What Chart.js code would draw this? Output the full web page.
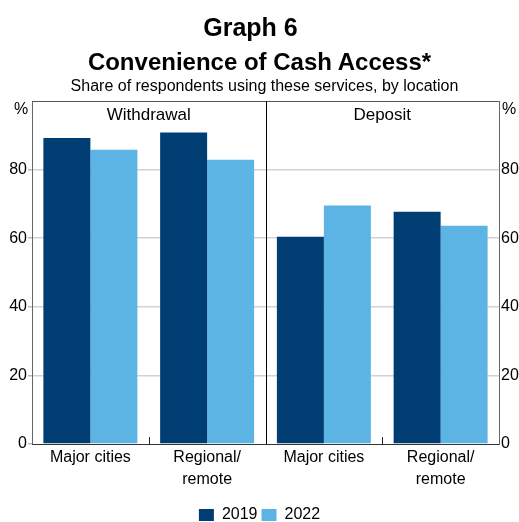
<!DOCTYPE html>
<html>
<head>
<meta charset="utf-8">
<script src="https://cdn.jsdelivr.net/npm/chart.js@4.4.0/dist/chart.umd.min.js"></script>
<style>
  body { margin: 0; background: #fff; }
  .wrap { position: relative; width: 519px; height: 522px; overflow: hidden; font-family: "Liberation Sans", Arial, sans-serif; color: #000; }
  .wrap canvas { position: absolute; left: 0; top: 0; }
  .t { position: absolute; width: 519px; text-align: center; white-space: nowrap; }
  .t1 { top: 15px; left: -9px; font-size: 25px; line-height: 25px; font-weight: bold; }
  .t2 { top: 50px; left: 0; font-size: 24px; line-height: 24px; font-weight: bold; }
  .t3 { top: 78px; left: 5px; font-size: 16px; line-height: 16px; }
</style>
</head>
<body>
<div class="wrap">
  <canvas id="myChart" width="519" height="533"></canvas>
  <div class="t t1">Graph 6</div>
  <div class="t t2">Convenience of Cash Access*</div>
  <div class="t t3">Share of respondents using these services, by location</div>
</div>
<script>
const panels = ["Withdrawal", "Deposit"];
const categories = [["Major cities"], ["Regional/", "remote"], ["Major cities"], ["Regional/", "remote"]];
const years = ["2019", "2022"];
const values2019 = [89.2, 90.8, 60.4, 67.7];
const values2022 = [85.8, 82.9, 69.5, 63.6];
const yTicks = [0, 20, 40, 60, 80];

const FONT = "'Liberation Sans', Arial, sans-serif";
// canvas is a bit taller than the page so the legend sits on the bottom edge like the original
const CANVAS_H = 533, PLOT_TOP = 101, PLOT_BOTTOM = 444;

// frame, panel divider, panel names and % signs
const panelPlugin = {
    id: "panels",
    afterDatasetsDraw(chart) {
        const { ctx, chartArea: a, scales: { x } } = chart;
        const per = categories.length / panels.length;
        ctx.save();

        ctx.strokeStyle = "#555";
        ctx.lineWidth = 1;
        ctx.beginPath();
        ctx.moveTo(a.left, Math.round(a.top) + 0.5);
        ctx.lineTo(a.right, Math.round(a.top) + 0.5);
        ctx.stroke();

        ctx.font = "17px " + FONT;
        ctx.fillStyle = "#000";
        ctx.textAlign = "center";
        ctx.textBaseline = "middle";

        panels.forEach((name, p) => {
            const first = p * per, last = first + per - 1;
            const cx = (x.getPixelForValue(first) + x.getPixelForValue(last)) / 2;
            ctx.fillText(name, cx, a.top + 14);

            // small tick between categories inside a panel
            for (let i = first; i < last; i++) {
                const bx = Math.round((x.getPixelForValue(i) + x.getPixelForValue(i + 1)) / 2) + 0.5;
                ctx.strokeStyle = "#222";
                ctx.beginPath();
                ctx.moveTo(bx, a.bottom - 7);
                ctx.lineTo(bx, a.bottom);
                ctx.stroke();
            }

            // divider between panels
            if (p < panels.length - 1) {
                const dx = Math.round((x.getPixelForValue(last) + x.getPixelForValue(last + 1)) / 2) + 0.5;
                ctx.strokeStyle = "#000";
                ctx.beginPath();
                ctx.moveTo(dx, a.top);
                ctx.lineTo(dx, a.bottom);
                ctx.stroke();
            }
        });

        ctx.font = "16px " + FONT;
        ctx.fillText("%", 21, a.top + 9);
        ctx.fillText("%", 509, a.top + 9);
        ctx.restore();
    }
};

const ctx = document.getElementById("myChart").getContext("2d");
new Chart(ctx, {
    type: "bar",
    data: {
        labels: categories,
        datasets: [{
            label: years[0],
            data: values2019,
            backgroundColor: "#003d73",
            borderWidth: 0,
            yAxisID: "y"
        }, {
            label: years[1],
            data: values2022,
            backgroundColor: "#5bb4e4",
            borderWidth: 0,
            yAxisID: "y"
        }]
    },
    plugins: [panelPlugin],
    options: {
        responsive: false,
        animation: false,
        devicePixelRatio: 1,
        categoryPercentage: 0.805,
        barPercentage: 1,
        layout: { padding: { top: PLOT_TOP, left: 0, right: 0, bottom: 0 } },
        plugins: {
            title: { display: false },
            tooltip: { enabled: false },
            legend: {
                position: "bottom",
                labels: {
                    boxWidth: 15,
                    boxHeight: 12,
                    padding: 4,
                    color: "#000",
                    font: { family: FONT, size: 16 }
                }
            }
        },
        scales: {
            x: {
                grid: { display: false, drawTicks: false },
                border: { display: true, color: "#333", width: 1 },
                ticks: {
                    color: "#000",
                    padding: 3,
                    maxRotation: 0,
                    autoSkip: false,
                    font: { family: FONT, size: 16, lineHeight: 1.35 }
                },
                afterFit(s) {
                    s.height = CANVAS_H - PLOT_BOTTOM - s.chart.legend.height;
                }
            },
            y: {
                position: "left",
                min: 0,
                max: 100,
                afterBuildTicks(s) {
                    s.ticks = yTicks.concat([100]).map(v => ({ value: v }));
                },
                ticks: {
                    color: "#000",
                    padding: 1,
                    font: { family: FONT, size: 16 },
                    callback: v => yTicks.includes(v) ? v : ""
                },
                grid: {
                    color: c => (c.tick && (c.tick.value === 0 || c.tick.value === 100)) ? "rgba(0,0,0,0)" : "#d3d3d3",
                    tickColor: c => (c.tick && c.tick.value === 100) ? "rgba(0,0,0,0)" : "#bbb",
                    tickLength: 4,
                    lineWidth: 1.5
                },
                border: { display: true, color: "#666", width: 1 },
                afterFit(s) { s.width = 32; }
            },
            y2: {
                position: "right",
                min: 0,
                max: 100,
                afterBuildTicks(s) {
                    s.ticks = yTicks.concat([100]).map(v => ({ value: v }));
                },
                ticks: {
                    color: "#000",
                    padding: 2,
                    font: { family: FONT, size: 16 },
                    callback: v => yTicks.includes(v) ? v : ""
                },
                grid: { drawOnChartArea: false, drawTicks: false },
                border: { display: true, color: "#666", width: 1 },
                afterFit(s) { s.width = 20; }
            }
        }
    }
});
</script>
</body>
</html>
